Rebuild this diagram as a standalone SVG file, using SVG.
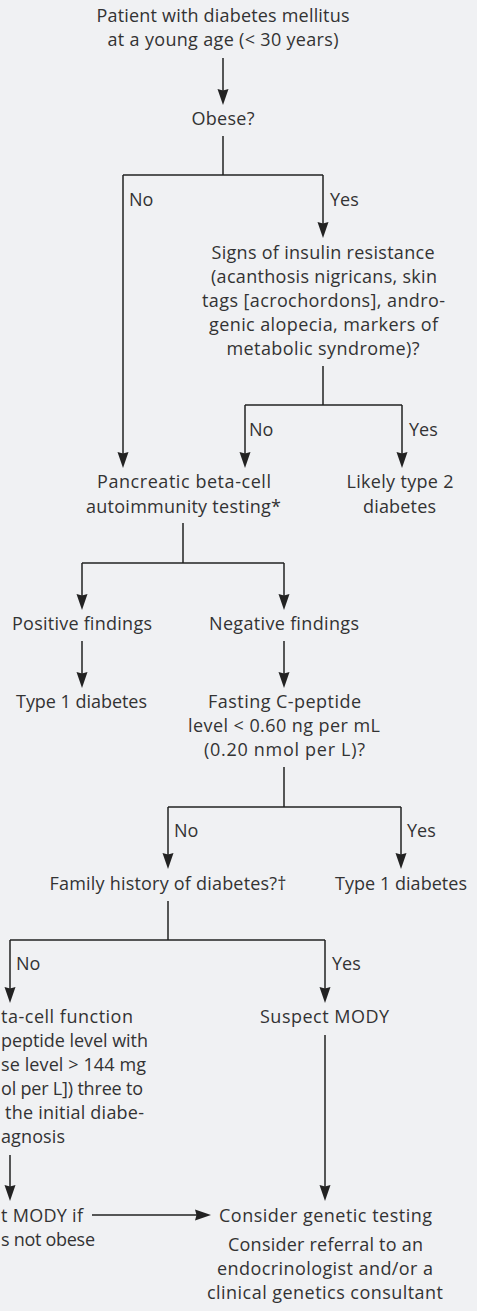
<svg xmlns="http://www.w3.org/2000/svg" width="477" height="1311" viewBox="0 0 477 1311">
<style>
text{font-family:"Open Sans",Lato,"Liberation Sans",sans-serif;font-size:18px;fill:#333;}
.c{text-anchor:middle;}
.e{text-anchor:end;}
.ln{fill:none;stroke:#222;stroke-width:1.5;}
.ar{marker-end:url(#ah);}
</style>
<defs>
<marker id="ah" viewBox="0 0 16 12" refX="13" refY="6" markerWidth="16" markerHeight="12" orient="auto" markerUnits="userSpaceOnUse"><path d="M0,0.5 L16,6 L0,11.5 L1.5,6 z" fill="#222"/></marker>
</defs>
<rect width="477" height="1311" fill="#f0f1f3"/>
<g id="connectors">
<line class="ln ar" x1="223" y1="58" x2="223" y2="102"/>
<polyline class="ln" points="223,136 223,175"/>
<polyline class="ln" points="123,175 323,175"/>
<line class="ln ar" x1="123" y1="175" x2="123" y2="465"/>
<line class="ln ar" x1="323" y1="175" x2="323" y2="235"/>
<polyline class="ln" points="323,366 323,405"/>
<polyline class="ln" points="245,405 402,405"/>
<line class="ln ar" x1="245" y1="405" x2="245" y2="465"/>
<line class="ln ar" x1="402" y1="405" x2="402" y2="465"/>
<polyline class="ln" points="183,523 183,563"/>
<polyline class="ln" points="82,563 284,563"/>
<line class="ln ar" x1="82" y1="563" x2="82" y2="607"/>
<line class="ln ar" x1="284" y1="563" x2="284" y2="607"/>
<line class="ln ar" x1="82" y1="641" x2="82" y2="685"/>
<line class="ln ar" x1="284" y1="641" x2="284" y2="685"/>
<polyline class="ln" points="284,767 284,807"/>
<polyline class="ln" points="168,807 401,807"/>
<line class="ln ar" x1="168" y1="807" x2="168" y2="866"/>
<line class="ln ar" x1="401" y1="807" x2="401" y2="866"/>
<polyline class="ln" points="168,901 168,940"/>
<polyline class="ln" points="10,940 325,940"/>
<line class="ln ar" x1="10" y1="940" x2="10" y2="1000"/>
<line class="ln ar" x1="325" y1="940" x2="325" y2="1000"/>
<line class="ln ar" x1="10" y1="1155" x2="10" y2="1198"/>
<line class="ln ar" x1="325" y1="1035" x2="325" y2="1198"/>
<line class="ln ar" x1="92" y1="1215" x2="208" y2="1215"/>
</g>
<g id="labels">
<text x="129" y="206">No</text>
<text x="330" y="206">Yes</text>
<text x="249" y="436">No</text>
<text x="409" y="436">Yes</text>
<text x="174" y="837">No</text>
<text x="407" y="837">Yes</text>
<text x="16" y="970">No</text>
<text x="332" y="970">Yes</text>
</g>
<g id="n-start"><text class="c" x="223" y="22" textLength="253">Patient with diabetes mellitus</text><text class="c" x="223" y="46" textLength="231">at a young age (&lt; 30 years)</text></g>
<g id="n-obese"><text class="c" x="223" y="125" textLength="63">Obese?</text></g>
<g id="n-signs"><text class="c" x="323" y="259" textLength="223">Signs of insulin resistance</text><text class="c" x="324" y="283" textLength="226">(acanthosis nigricans, skin</text><text class="c" x="323.5" y="307" textLength="243">tags [acrochordons], andro-</text><text class="c" x="323.5" y="331" textLength="229">genic alopecia, markers of</text><text class="c" x="323" y="355" textLength="193">metabolic syndrome)?</text></g>
<g id="n-pancreatic"><text class="c" x="184" y="488" textLength="174">Pancreatic beta-cell</text><text class="c" x="183.5" y="513" textLength="195">autoimmunity testing*</text></g>
<g id="n-type2"><text class="c" x="400" y="488" textLength="107">Likely type 2</text><text class="c" x="399.5" y="513" textLength="73">diabetes</text></g>
<g id="n-positive"><text class="c" x="82" y="630" textLength="140">Positive findings</text></g>
<g id="n-negative"><text class="c" x="284" y="630" textLength="150">Negative findings</text></g>
<g id="n-type1a"><text class="c" x="81.5" y="708" textLength="131">Type 1 diabetes</text></g>
<g id="n-cpeptide"><text class="c" x="284.5" y="708" textLength="153">Fasting C-peptide</text><text class="c" x="284" y="732" textLength="192">level &lt; 0.60 ng per mL</text><text class="c" x="284.5" y="756" textLength="161">(0.20 nmol per L)?</text></g>
<g id="n-family"><text class="c" x="168" y="890" textLength="237">Family history of diabetes?†</text></g>
<g id="n-type1b"><text class="c" x="401" y="890" textLength="132">Type 1 diabetes</text></g>
<g id="n-assess"><text class="e" x="133" y="1023" textLength="132">ta-cell function</text><text class="e" x="148" y="1047" textLength="147">peptide level with</text><text class="e" x="146" y="1071" textLength="145">se level &gt; 144 mg</text><text class="e" x="143" y="1095" textLength="142">ol per L]) three to</text><text class="e" x="144" y="1119" textLength="139">the initial diabe-</text><text class="e" x="65" y="1143" textLength="64">agnosis</text></g>
<g id="n-suspect"><text class="c" x="324.5" y="1023" textLength="129">Suspect MODY</text></g>
<g id="n-suspect-if"><text class="e" x="83" y="1222" textLength="82">t MODY if</text><text class="e" x="95" y="1246" textLength="94">s not obese</text></g>
<g id="n-genetic"><text class="c" x="325.5" y="1222" textLength="213">Consider genetic testing</text><text class="c" x="325.5" y="1251" textLength="195">Consider referral to an</text><text class="c" x="325" y="1275" textLength="216">endocrinologist and/or a</text><text class="c" x="325" y="1299" textLength="236">clinical genetics consultant</text></g>
</svg>
